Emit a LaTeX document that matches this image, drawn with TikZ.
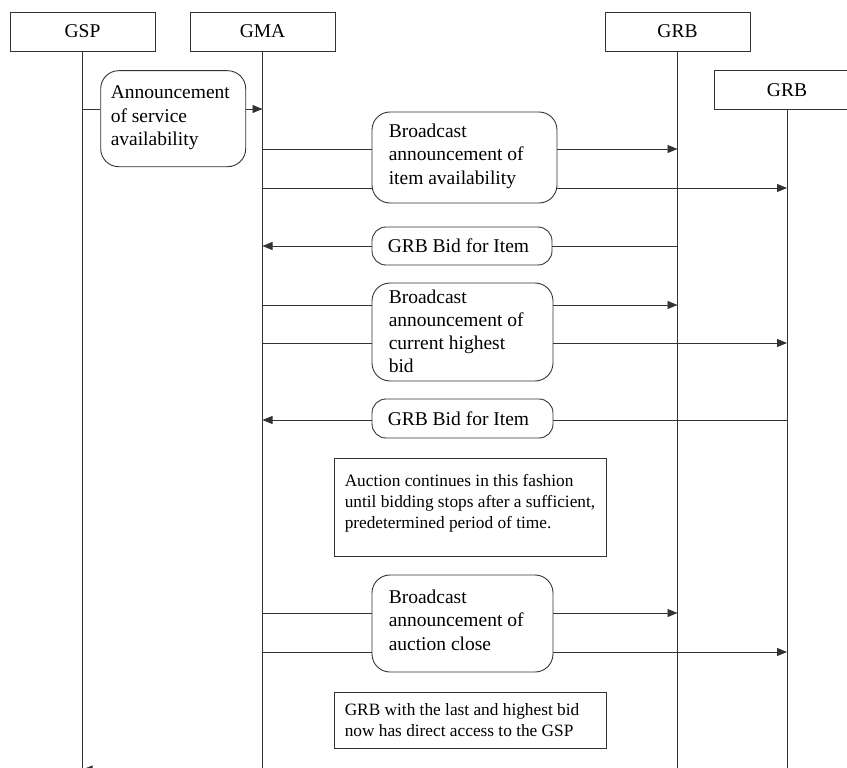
\documentclass[tikz,border=0pt]{standalone}
\usepackage{fontspec}
\setmainfont{Liberation Serif}
\usetikzlibrary{arrows.meta}

\tikzset{
  wire/.style={draw=black!80, line width=0.9pt},
  sendtip/.style={wire, -{Triangle[length=10pt,width=8pt]}},
  headbox/.style={wire, fill=white, minimum width=145pt, minimum height=39pt,
    inner sep=0pt, font=\fontsize{19.5}{23.5}\selectfont},
  msgbox/.style={wire, fill=white, rounded corners=18pt, inner sep=0pt},
  bidbox/.style={wire, fill=white, rounded corners=14pt, inner sep=0pt},
  notebox/.style={wire, fill=white, inner sep=0pt},
  % the base anchor of a multi-line text sits on its last line
  msgtext/.style={inner sep=0pt, align=left, anchor=base west,
    font=\fontsize{19.5}{23.3}\selectfont},
  notetext/.style={inner sep=0pt, align=left, anchor=base west,
    font=\fontsize{17.3}{21}\selectfont},
}

\begin{document}
\begin{tikzpicture}[x=1pt, y=-1pt]
\useasboundingbox (0,0) rectangle (847,768);

% participants
\node[headbox] (gsp)  at (82.5,31.5) {GSP};
\node[headbox] (gma)  at (262.5,31.5) {GMA};
\node[headbox] (grb1) at (677.5,31.5) {GRB};
\node[headbox] (grb2) at (787,89.75) {GRB};

% lifelines
\coordinate (bottom) at (0,768);
\draw[wire] (gsp.south)  -- (bottom -| gsp.south);
\draw[wire] (gma.south)  -- (bottom -| gma.south);
\draw[wire] (grb1.south) -- (bottom -| grb1.south);
\draw[wire] (grb2.south) -- (bottom -| grb2.south);

% message boxes
\node[msgbox, minimum width=145pt, minimum height=96pt] (ann) at (173.2,118.7) {};
\node[msgtext] (annt) at ([shift={(10.3,75.1)}]ann.north west)
  {Announcement\\of service\\availability};

\node[msgbox, minimum width=185pt, minimum height=91pt] (item) at (464.5,157.5) {};
\node[msgtext] (itemt) at ([shift={(17,72.6)}]item.north west)
  {Broadcast\\announcement of\\item availability};

\node[bidbox, minimum width=180pt, minimum height=38pt] (bida) at (462,246) {};
\node[msgtext] (bidat) at ([shift={(16,26)}]bida.north west) {GRB Bid for Item};

\node[msgbox, minimum width=181pt, minimum height=98pt] (high) at (462.5,332) {};
\node[msgtext] (hight) at ([shift={(17,90.4)}]high.north west)
  {Broadcast\\announcement of\\current highest\\bid};

\node[bidbox, minimum width=181pt, minimum height=39pt] (bidb) at (462.5,418.5) {};
\node[msgtext] (bidbt) at ([shift={(16,27)}]bidb.north west) {GRB Bid for Item};

\node[notebox, minimum width=272pt, minimum height=98pt] (cont) at (470,507) {};
\node[notetext] (contt) at ([shift={(11,71)}]cont.north west)
  {Auction continues in this fashion\\until bidding stops after a sufficient,\\predetermined period of time.};

\node[msgbox, minimum width=181pt, minimum height=97pt] (close) at (462.5,623.5) {};
\node[msgtext] (closet) at ([shift={(17,75.6)}]close.north west)
  {Broadcast\\announcement of\\auction close};

\node[notebox, minimum width=272pt, minimum height=56pt] (win) at (470,720) {};
\node[notetext] (wint) at ([shift={(11,45)}]win.north west)
  {GRB with the last and highest bid\\now has direct access to the GSP};

% message rows
\coordinate (r1) at (0,109);
\coordinate (r2) at (0,149);
\coordinate (r3) at (0,188);
\coordinate (r4) at (0,246);
\coordinate (r5) at (0,305);
\coordinate (r6) at (0,343);
\coordinate (r7) at (0,420);
\coordinate (r8) at (0,613);
\coordinate (r9) at (0,652);
\coordinate (r10) at (0,769.5);

% GSP -> GMA
\draw[wire] (r1 -| gsp.south) -- (r1 -| ann.west);
\draw[sendtip] (r1 -| ann.east) -- (r1 -| gma.south);

% item availability
\draw[wire] (r2 -| gma.south) -- (r2 -| item.west);
\draw[sendtip] (r2 -| item.east) -- (r2 -| grb1.south);
\draw[wire] (r3 -| gma.south) -- (r3 -| item.west);
\draw[sendtip] (r3 -| item.east) -- (r3 -| grb2.south);

% first bid
\draw[wire] (r4 -| grb1.south) -- (r4 -| bida.east);
\draw[sendtip] (r4 -| bida.west) -- (r4 -| gma.south);

% current highest bid
\draw[wire] (r5 -| gma.south) -- (r5 -| high.west);
\draw[sendtip] (r5 -| high.east) -- (r5 -| grb1.south);
\draw[wire] (r6 -| gma.south) -- (r6 -| high.west);
\draw[sendtip] (r6 -| high.east) -- (r6 -| grb2.south);

% second bid
\draw[wire] (r7 -| grb2.south) -- (r7 -| bidb.east);
\draw[sendtip] (r7 -| bidb.west) -- (r7 -| gma.south);

% auction close
\draw[wire] (r8 -| gma.south) -- (r8 -| close.west);
\draw[sendtip] (r8 -| close.east) -- (r8 -| grb1.south);
\draw[wire] (r9 -| gma.south) -- (r9 -| close.west);
\draw[sendtip] (r9 -| close.east) -- (r9 -| grb2.south);

% access handed to the GSP
\draw[sendtip] (r10 -| gma.south) -- (r10 -| gsp.south);
\end{tikzpicture}
\end{document}
